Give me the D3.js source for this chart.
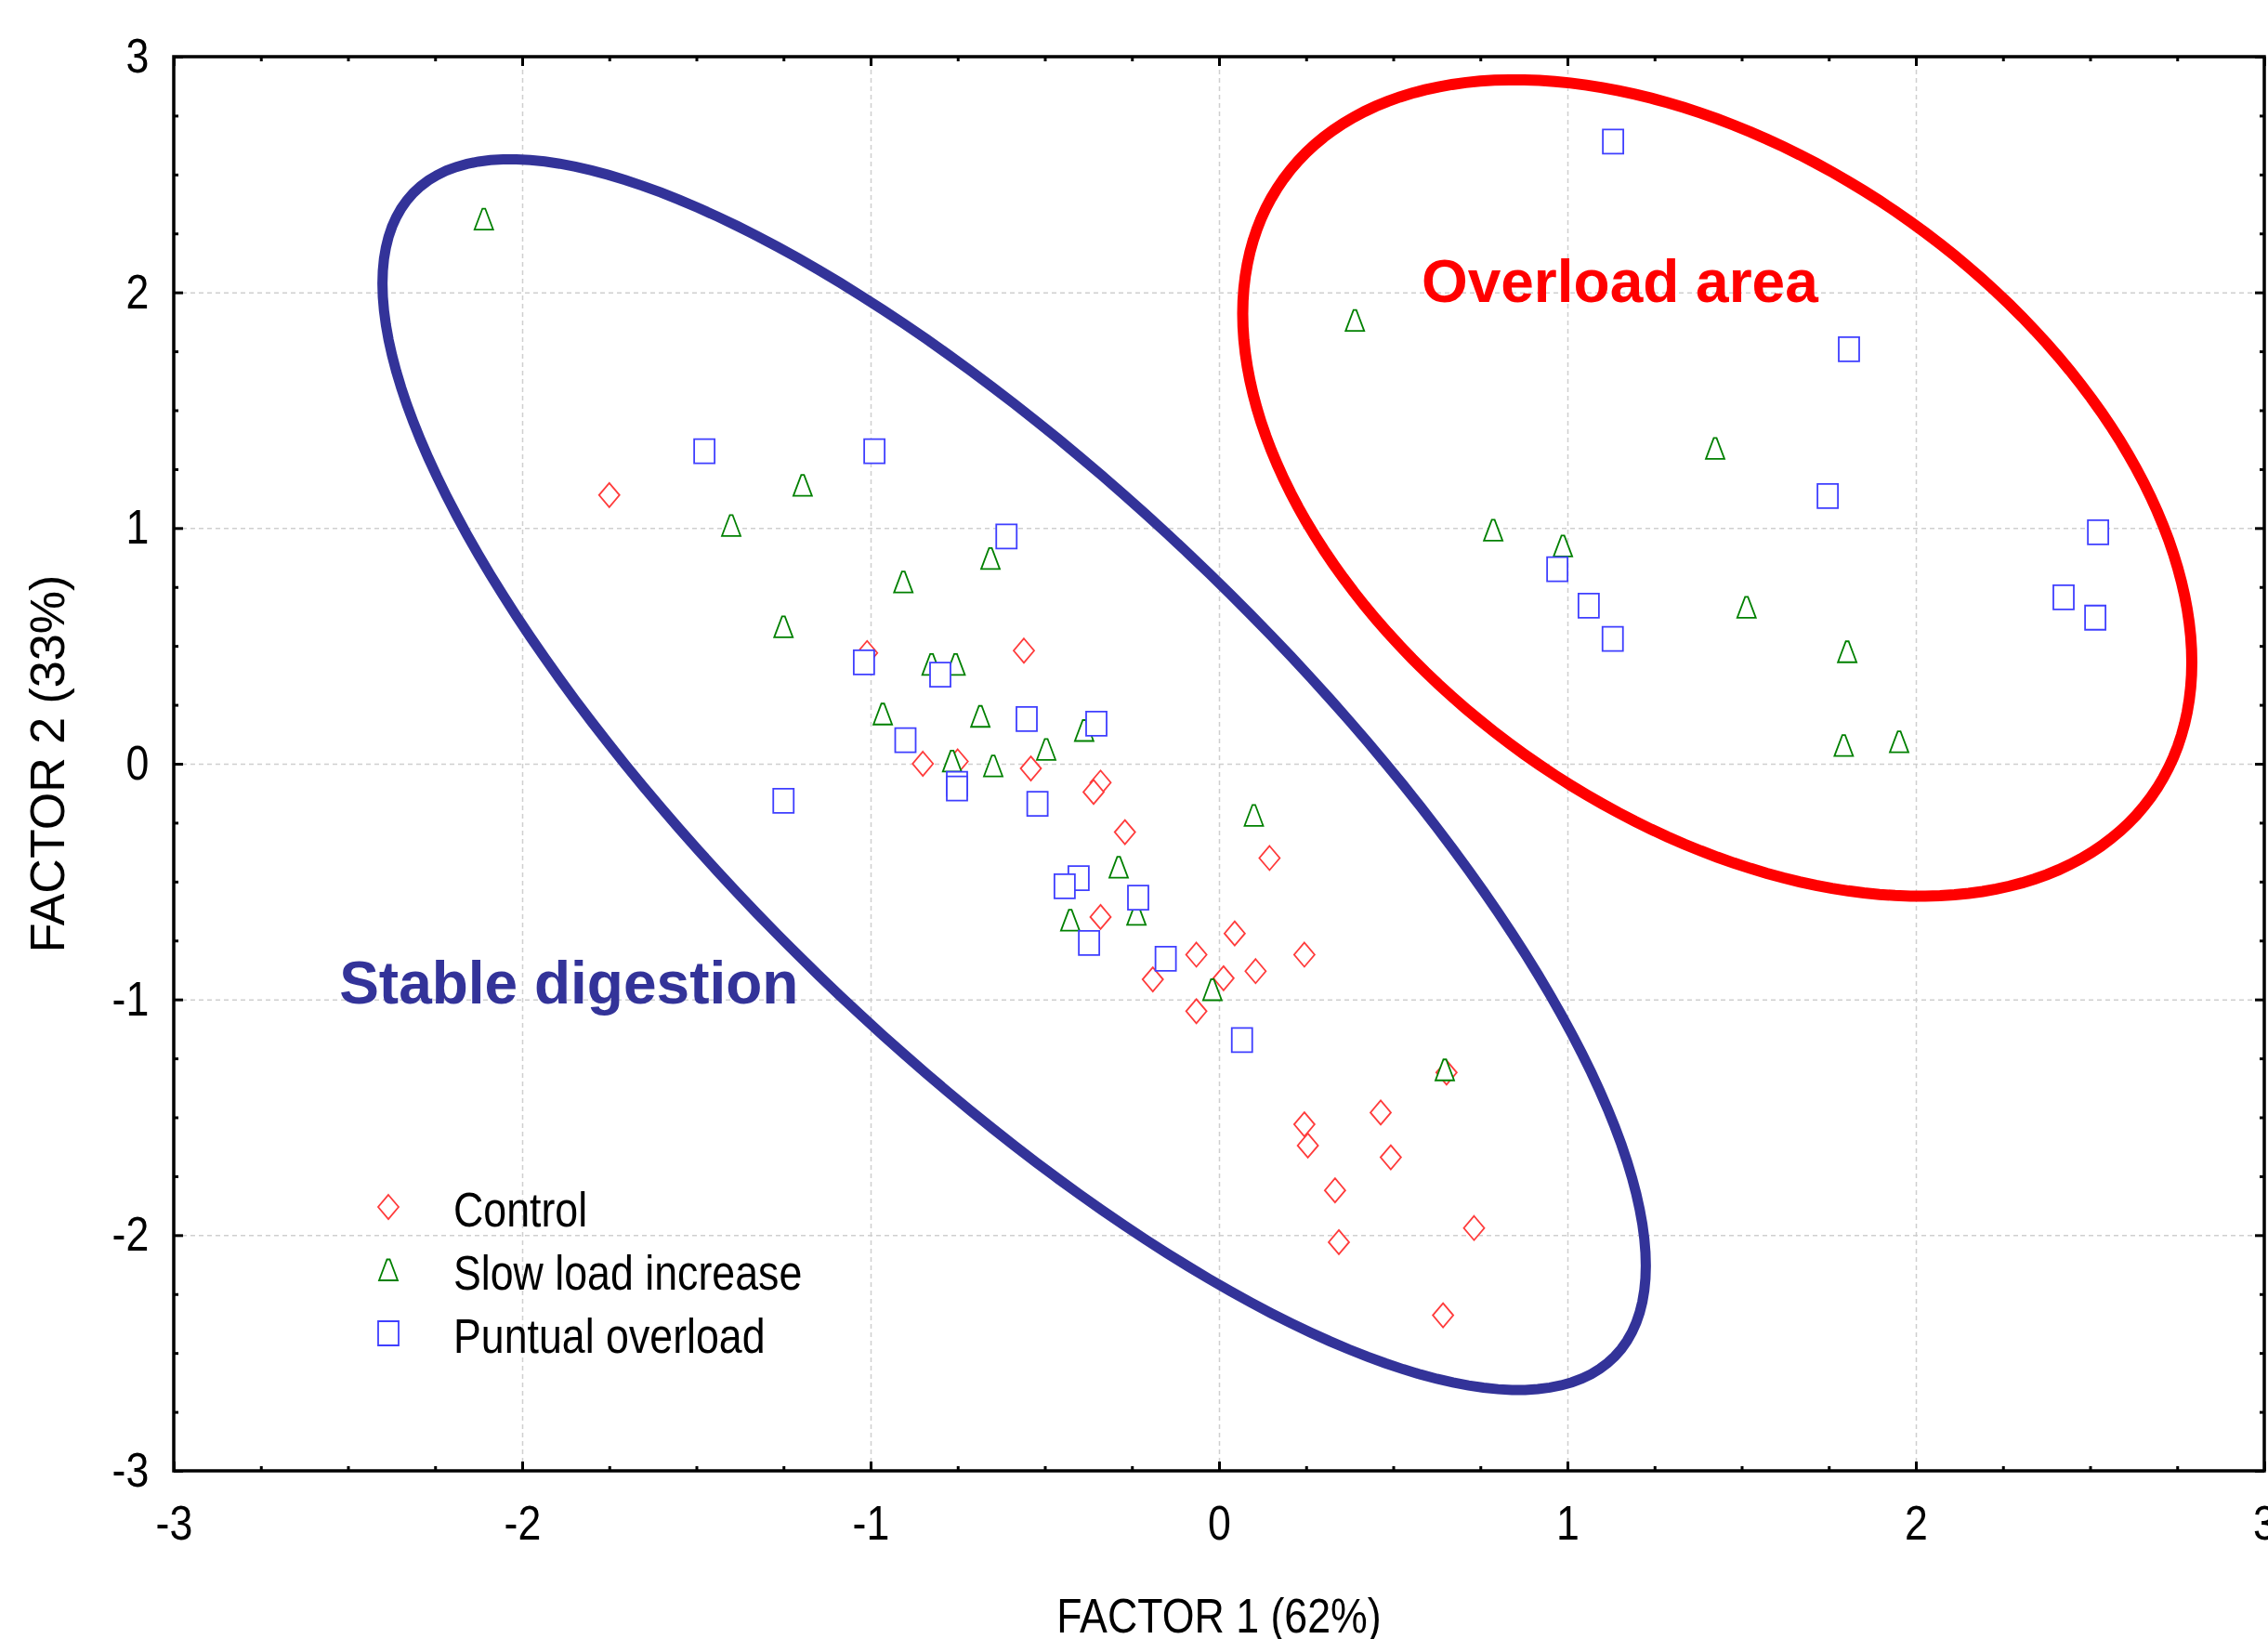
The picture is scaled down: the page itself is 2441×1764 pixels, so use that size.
<!DOCTYPE html>
<html>
<head>
<meta charset="utf-8">
<script src="https://cdn.jsdelivr.net/npm/d3@7"></script>
<style>
  html, body { margin: 0; padding: 0; background: #fff; }
  svg { display: block; }
</style>
</head>
<body>
<div id="chart-container"></div>
<script>
// factor scores: [FACTOR 1, FACTOR 2]
const control = [
  [-1.75, 1.14], [-1.01, 0.47], [-0.56, 0.48], [-0.85, 0.00], [-0.75, 0.01],
  [-0.54, -0.02], [-0.34, -0.08], [-0.36, -0.12], [-0.27, -0.29], [-0.34, -0.65],
  [0.145, -0.40], [0.045, -0.72], [-0.065, -0.81], [0.245, -0.81], [0.105, -0.88],
  [0.013, -0.91], [-0.19, -0.915], [-0.065, -1.05], [0.653, -1.31], [0.464, -1.48],
  [0.245, -1.53], [0.255, -1.62], [0.493, -1.67], [0.333, -1.81], [0.732, -1.97],
  [0.344, -2.03], [0.643, -2.34]
];
const slowLoad = [
  [-2.11, 2.31], [-1.195, 1.18], [-1.40, 1.01], [-0.656, 0.87], [-0.906, 0.77],
  [-1.25, 0.58], [-0.825, 0.42], [-0.756, 0.42], [-0.965, 0.21], [-0.685, 0.20],
  [-0.387, 0.14], [-0.496, 0.06], [-0.766, 0.01], [-0.648, -0.01], [0.10, -0.22],
  [-0.288, -0.44], [-0.237, -0.64], [-0.427, -0.665], [-0.019, -0.96], [0.648, -1.30],
  [0.39, 1.88], [1.424, 1.337], [0.787, 0.99], [0.987, 0.923], [1.514, 0.663],
  [1.803, 0.474], [1.793, 0.076], [1.952, 0.092]
];
const puntual = [
  [-1.477, 1.326], [-0.989, 1.326], [-0.61, 0.964], [-1.019, 0.43], [-0.80, 0.378],
  [-0.552, 0.19], [-0.352, 0.17], [-0.90, 0.10], [-0.752, -0.085], [-0.752, -0.105],
  [-1.25, -0.157], [-0.521, -0.17], [-0.403, -0.485], [-0.443, -0.52], [-0.232, -0.568],
  [-0.373, -0.76], [-0.153, -0.827], [0.066, -1.172],
  [1.131, 2.64], [1.808, 1.759], [1.747, 1.136], [0.971, 0.825], [2.523, 0.982],
  [1.061, 0.671], [2.424, 0.706], [1.13, 0.53], [2.515, 0.62]
];

const seriesNames = ["Control", "Slow load increase", "Puntual overload"];
const xTicks = [-3, -2, -1, 0, 1, 2, 3];
const yTicks = [-3, -2, -1, 0, 1, 2, 3];
const xTitle = "FACTOR 1 (62%)";
const yTitle = "FACTOR 2 (33%)";

// group ellipses: centre, half extent along each axis, correlation
const stableEllipse = {cx: -0.588, cy: -0.046, sx: 1.813, sy: 2.611, r: -0.798};
const overloadEllipse = {cx: 1.43, cy: 1.17, sx: 1.362, sy: 1.732, r: -0.427};
const stableLabel = {text: "Stable digestion", at: [-2.525, -1.016]};
const overloadLabel = {text: "Overload area", at: [0.581, 1.96]};

function chart() {
  const width = 2441;
  const height = 1764;
  const marginTop = 61;
  const marginRight = 4;
  const marginBottom = 181;
  const marginLeft = 187;
  const font = "'Liberation Sans', Arial, sans-serif";
  const squash = "scale(0.86,1)"; // chart text is a bit narrow in the original

  const x = d3.scaleLinear()
    .domain([-3, 3])
    .range([marginLeft, width - marginRight]);

  const y = d3.scaleLinear()
    .domain([-3, 3])
    .range([height - marginBottom, marginTop]);

  const minor = d3.range(-2.75, 3, 0.25).filter(v => v % 1 !== 0);
  const plotW = x(3) - x(-3);
  const plotH = y(-3) - y(3);

  const svg = d3.create("svg")
    .attr("width", width)
    .attr("height", height)
    .attr("viewBox", [0, 0, width, height])
    .style("font-family", font)
    .style("background", "#fff");

  // grid
  const grid = svg.append("g");
  grid.append("g")
    .attr("transform", `translate(0,${y(-3)})`)
    .call(d3.axisBottom(x).tickValues(xTicks.slice(1, -1)).tickSize(-plotH).tickFormat(""));
  grid.append("g")
    .attr("transform", `translate(${x(-3)},0)`)
    .call(d3.axisLeft(y).tickValues(yTicks.slice(1, -1)).tickSize(-plotW).tickFormat(""));
  grid.selectAll(".domain").remove();
  grid.selectAll("line")
    .attr("stroke", "#cfcfcf").attr("stroke-width", 1.5).attr("stroke-dasharray", "5,4");

  // ellipses
  const ring = e => d3.range(0, 361, 2).map(a => {
    const t = a * Math.PI / 180;
    return [e.cx + e.sx * Math.cos(t),
            e.cy + e.sy * (e.r * Math.cos(t) + Math.sqrt(1 - e.r * e.r) * Math.sin(t))];
  });
  const line = d3.line().x(d => x(d[0])).y(d => y(d[1])).curve(d3.curveLinearClosed);

  svg.append("path")
    .attr("d", line(ring(stableEllipse)))
    .attr("fill", "none").attr("stroke", "#333399").attr("stroke-width", 11);
  svg.append("path")
    .attr("d", line(ring(overloadEllipse)))
    .attr("fill", "none").attr("stroke", "#ff0000").attr("stroke-width", 12);

  // markers
  const shapes = [
    {d: "M0,-13L11,0L0,13L-11,0Z", color: "#ff3b3b"},
    {d: "M-1.5,-11.5L1.5,-11.5L10,11L-10,11Z", color: "#008000"},
    {d: "M-11,-13H11V13H-11Z", color: "#3f3fff"}
  ];
  [control, slowLoad, puntual].forEach((data, i) => {
    svg.append("g")
      .selectAll("path")
      .data(data)
      .enter()
      .append("path")
      .attr("d", shapes[i].d)
      .attr("transform", d => `translate(${x(d[0])},${y(d[1])})`)
      .attr("fill", "#fff")
      .attr("stroke", shapes[i].color)
      .attr("stroke-width", 1.8);
  });

  // annotations
  svg.append("text")
    .attr("x", x(stableLabel.at[0])).attr("y", y(stableLabel.at[1]))
    .attr("font-size", 64).attr("font-weight", "bold").attr("fill", "#333399")
    .text(stableLabel.text);
  svg.append("text")
    .attr("x", x(overloadLabel.at[0])).attr("y", y(overloadLabel.at[1]))
    .attr("font-size", 64).attr("font-weight", "bold").attr("fill", "#ff0000")
    .text(overloadLabel.text);

  // frame
  svg.append("rect")
    .attr("x", x(-3)).attr("y", y(3))
    .attr("width", plotW).attr("height", plotH)
    .attr("fill", "none").attr("stroke", "#000").attr("stroke-width", 3.5);

  // ticks pointing inward on every side
  const axes = svg.append("g");
  const sides = [
    [d3.axisBottom, `translate(0,${y(-3)})`, x, xTicks],
    [d3.axisTop, `translate(0,${y(3)})`, x, xTicks],
    [d3.axisLeft, `translate(${x(-3)},0)`, y, yTicks],
    [d3.axisRight, `translate(${x(3)},0)`, y, yTicks]
  ];
  sides.forEach(([axis, tr, scale, major]) => {
    axes.append("g").attr("transform", tr)
      .call(axis(scale).tickValues(minor).tickSize(-5).tickFormat(""));
    axes.append("g").attr("transform", tr)
      .call(axis(scale).tickValues(major).tickSize(-10).tickFormat(""));
  });
  axes.selectAll(".domain").remove();
  axes.selectAll("line").attr("stroke", "#000").attr("stroke-width", 3);

  // tick labels
  const xAxis = svg.append("g")
    .attr("transform", `translate(0,${y(-3)})`)
    .call(d3.axisBottom(x).tickValues(xTicks).tickSize(0).tickPadding(37).tickFormat(d => String(d)));
  const yAxis = svg.append("g")
    .attr("transform", `translate(${x(-3)},0)`)
    .call(d3.axisLeft(y).tickValues(yTicks).tickSize(0).tickPadding(31).tickFormat(d => String(d)));
  [xAxis, yAxis].forEach(g => {
    g.attr("font-size", null).attr("font-family", null);
    g.select(".domain").remove();
    g.selectAll("text")
      .attr("font-size", 52).attr("fill", "#000").attr("transform", squash);
  });

  // axis titles
  svg.append("text")
    .attr("transform", `translate(${(x(-3) + x(3)) / 2},1757) ${squash}`)
    .attr("text-anchor", "middle").attr("font-size", 52)
    .text(xTitle);
  svg.append("text")
    .attr("transform", `translate(69,${(y(-3) + y(3)) / 2}) rotate(-90)`)
    .attr("text-anchor", "middle").attr("font-size", 52)
    .text(yTitle);

  // legend
  const legend = svg.append("g").attr("transform", "translate(418,1299)");
  seriesNames.forEach((name, i) => {
    legend.append("path")
      .attr("d", shapes[i].d)
      .attr("transform", `translate(0,${i * 68})`)
      .attr("fill", "#fff").attr("stroke", shapes[i].color).attr("stroke-width", 1.8);
    legend.append("text")
      .attr("transform", `translate(70,${i * 68 + 21}) ${squash}`)
      .attr("font-size", 52)
      .text(name);
  });

  d3.select("#chart-container").append(() => svg.node());
}
chart();
</script>
</body>
</html>
